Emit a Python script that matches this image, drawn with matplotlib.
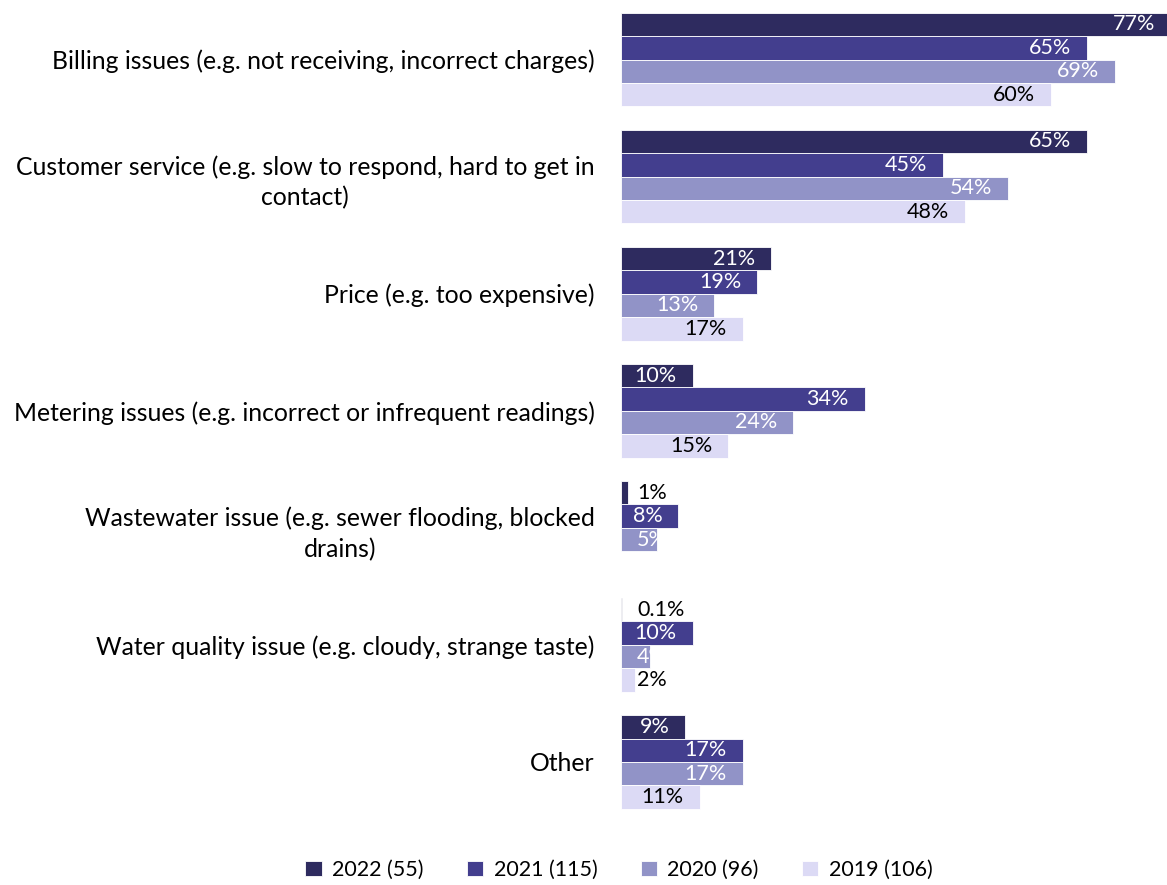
import matplotlib
matplotlib.use('Agg')
import matplotlib.pyplot as plt
import numpy as np

# ───────────────────────────── datos ───────────────────────────── #

CATEGORIES = [
    "Billing issues (e.g. not receiving, incorrect charges)",
    "Customer service (e.g. slow to respond, hard to get in\ncontact)",
    "Price (e.g. too expensive)",
    "Metering issues (e.g. incorrect or infrequent readings)",
    "Wastewater issue (e.g. sewer flooding, blocked\ndrains)",
    "Water quality issue (e.g. cloudy, strange taste)",
    "Other",
]

V2022 = [77, 65, 21, 10, 1, 0.1, 9]
V2021 = [65, 45, 19, 34, 8, 10, 17]
V2020 = [69, 54, 13, 24, 5, 4, 17]
V2019 = [60, 48, 17, 15, np.nan, 2, 11]

SERIES = ["2022 (55)", "2021 (115)", "2020 (96)", "2019 (106)"]
COLORS = ["#2E2B5F", "#433E8E", "#9193C7", "#DCDAF5"]
TEXT_COLORS = ["white", "white", "white", "black"]

# ───────────────────────────── figura ──────────────────────────── #

plt.rcParams['font.family'] = ['Lato', 'DejaVu Sans']

W, H = 1167, 885
fig = plt.figure(figsize=(W / 100, H / 100), dpi=100)
ax = fig.add_axes([621 / W, 1 - 820.5 / H, 546 / W, 819.5 / H])

bar_h = 0.2
offsets = np.array([-1.5, -0.5, 0.5, 1.5]) * bar_h
y = np.arange(len(CATEGORIES))
LBL = 15.5

for k, vals in enumerate([V2022, V2021, V2020, V2019]):
    vals = np.array(vals, dtype=float)
    ypos = y + offsets[k]
    ax.barh(ypos, np.nan_to_num(vals), height=bar_h, color=COLORS[k],
            edgecolor="white", linewidth=0.6, label=SERIES[k])
    for yy, v in zip(ypos, vals):
        if np.isnan(v):
            continue
        txt = f"{v:g}%"
        if v < 7:
            # etiquetas de barras cortas: ancladas cerca del eje
            col = TEXT_COLORS[k] if v > 3 else "black"
            ax.annotate(txt, (0, yy), xytext=(16, 0), textcoords="offset pixels",
                        ha="left", va="center", fontsize=LBL, color=col)
        else:
            ax.annotate(txt, (min(v, 76.2), yy), xytext=(-16 if v < 76 else -12, 0),
                        textcoords="offset pixels",
                        ha="right", va="center", fontsize=LBL, color=TEXT_COLORS[k])

ax.set_xlim(0, 76.2)
ax.set_ylim(len(CATEGORIES) - 0.5, -0.5)
ax.set_yticks(y)
ax.set_yticklabels(CATEGORIES, fontsize=17.8, multialignment="center",
                   linespacing=1.4)
ax.tick_params(axis="y", length=0, pad=19)
ax.set_xticks([])
for sp in ax.spines.values():
    sp.set_visible(False)

fig.legend(loc="center", bbox_to_anchor=(619 / W, 1 - 870 / H), ncol=4,
           frameon=False, fontsize=15.5, handlelength=0.75, handleheight=0.75,
           handletextpad=0.5, columnspacing=2.0)

fig.savefig("out.png", dpi=100)
